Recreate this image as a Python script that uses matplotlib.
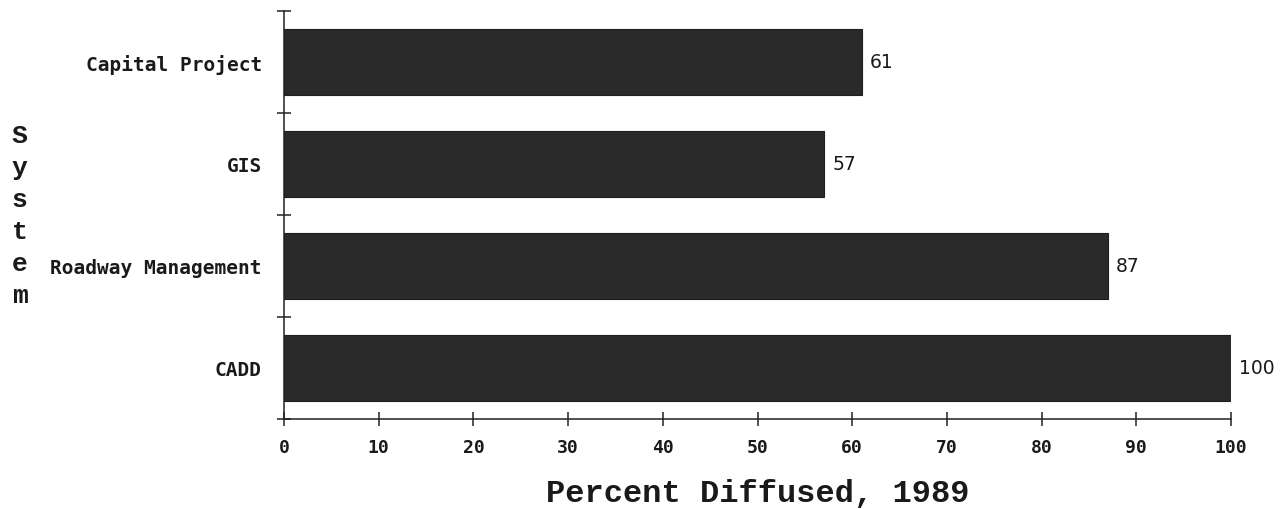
import matplotlib
matplotlib.use("Agg")
import matplotlib.pyplot as plt
from matplotlib.ticker import FixedLocator

categories = ["Capital Project", "GIS", "Roadway Management", "CADD"]
values = [61, 57, 87, 100]
x_ticks = [0, 10, 20, 30, 40, 50, 60, 70, 80, 90, 100]
x_label = "Percent Diffused, 1989"
y_label = "System"

fig = plt.figure(figsize=(12.85, 5.1), dpi=100)
ax = fig.add_axes([284/1285, 90/510, 947/1285, 408/510])

pos = list(range(len(categories)))
ax.barh(pos, values, height=0.65, color="#2a2a2a", edgecolor="#1e1e1e", linewidth=0.8)

ax.set_xlim(0, 100)
ax.set_ylim(len(categories) - 0.5, -0.5)

for spine in ("top", "right"):
    ax.spines[spine].set_visible(False)
for spine in ("left", "bottom"):
    ax.spines[spine].set_color("#222222")
    ax.spines[spine].set_linewidth(1.1)

ax.set_xticks(x_ticks)
ax.set_xticklabels([str(t) for t in x_ticks], fontfamily="DejaVu Sans Mono",
                   fontweight="bold", fontsize=13, color="#1a1a1a")
ax.tick_params(axis="x", which="major", direction="inout", length=10, width=1.1,
               color="#222222", pad=9)

ax.set_yticks(pos)
ax.set_yticklabels(categories, fontfamily="DejaVu Sans Mono", fontweight="bold",
                   fontsize=14, color="#1a1a1a")
ax.tick_params(axis="y", which="major", length=0, pad=16)
ax.yaxis.set_minor_locator(FixedLocator([p - 0.5 for p in pos] + [pos[-1] + 0.5]))
ax.tick_params(axis="y", which="minor", direction="inout", length=10, width=1.1,
               color="#222222")

for p, v in zip(pos, values):
    ax.annotate(str(v), xy=(v, p), xytext=(6, 0), textcoords="offset points",
                ha="left", va="center", fontsize=13.5, fontfamily="DejaVu Sans",
                color="#1a1a1a")

ax.set_xlabel(x_label, fontfamily="Liberation Mono", fontweight="bold",
              fontsize=23, color="#1a1a1a")
ax.xaxis.set_label_coords(0.5, -0.145)

ax.set_ylabel("\n".join(y_label), rotation=0, fontfamily="Liberation Mono",
              fontweight="bold", fontsize=19, color="#1a1a1a",
              ha="center", va="center", linespacing=1.42)
ax.yaxis.set_label_coords(-0.279, 0.5)

fig.savefig("out.png", dpi=100)
